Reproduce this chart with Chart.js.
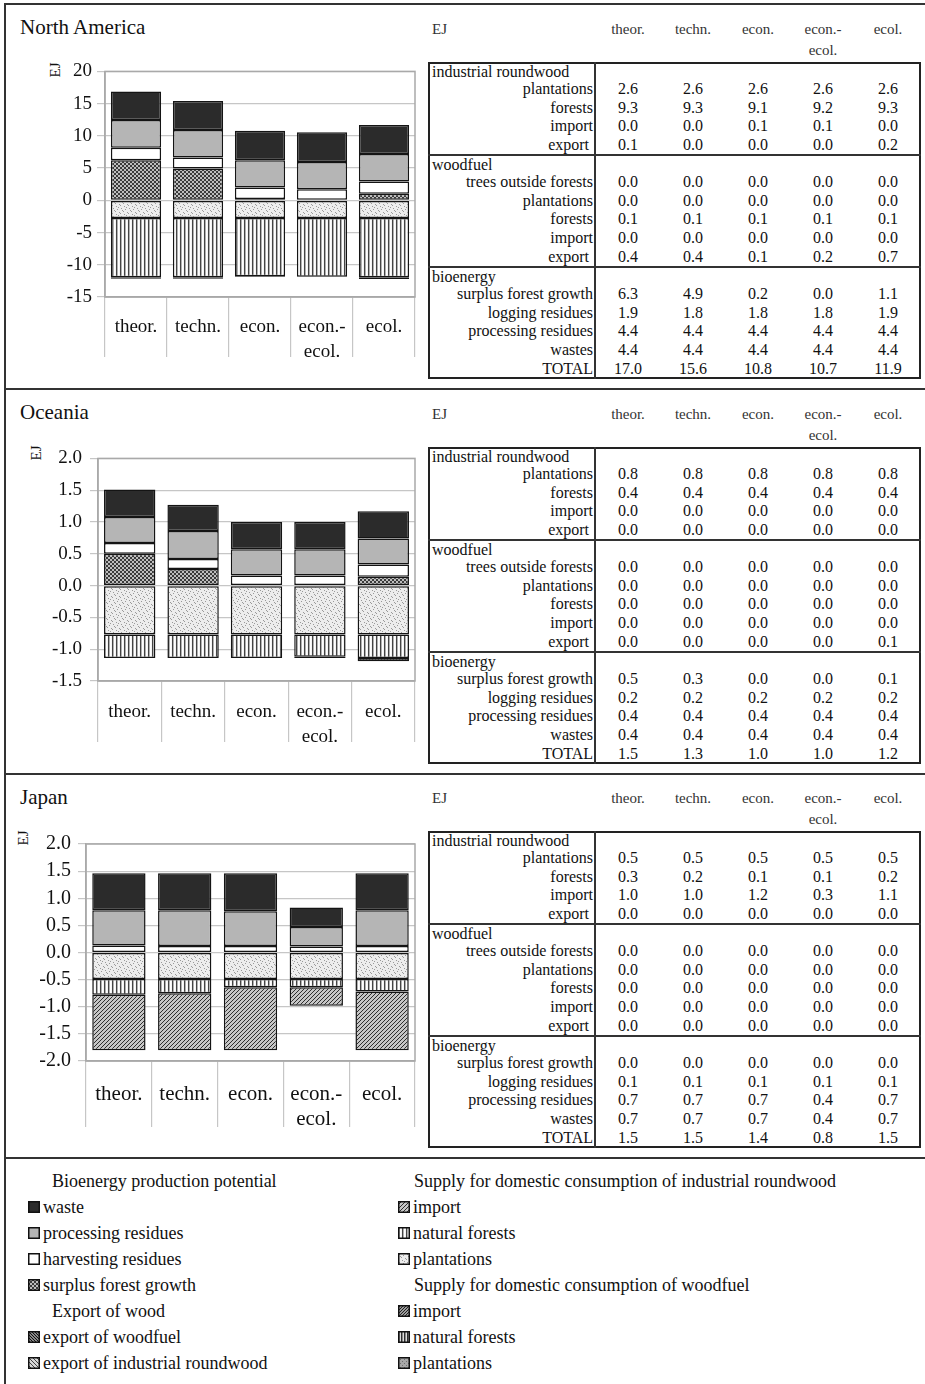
<!DOCTYPE html>
<html>
<head>
<meta charset="utf-8">
<script src="https://cdn.jsdelivr.net/npm/chart.js@4.4.0/dist/chart.umd.min.js"></script>
<style>
body { margin: 0; background: #fff; font-family: "Liberation Serif", "DejaVu Serif", serif; color: #111; }
#page { position: relative; width: 925px; height: 1384px; overflow: hidden; background: #fff; }
.rule { position: absolute; background: #333; }
.txt { position: absolute; white-space: nowrap; line-height: 1.15; }
.box { position: absolute; border: 2px solid #222; box-sizing: border-box; }
.chartbox { position: absolute; }
.sw { position: absolute; }
</style>
</head>
<body>
<div id="page"></div>
<script>
const FONT = '"Liberation Serif", "DejaVu Serif", serif'

// ------------------------------------------------------------
// data
// ------------------------------------------------------------
const categories = ['theor.', 'techn.', 'econ.', ['econ.-', 'ecol.'], 'ecol.']

// bar segments (EJ); bioenergy above zero, wood supply below
const naSurplus    = [6.2, 4.95, 0.2, 0, 1.0]
const naHarvest    = [1.95, 1.7, 1.8, 1.7, 1.9]
const naProcessing = [4.3, 4.25, 4.2, 4.25, 4.3]
const naWaste      = [4.45, 4.5, 4.6, 4.6, 4.5]
const naPlantations = [-2.75, -2.75, -2.75, -2.75, -2.75]
const naForests    = [-9.2, -9.2, -9.05, -9.1, -9.2]
const naImport     = [0, 0, -0.1, -0.05, 0]
const naExportWf   = [-0.2, -0.2, 0, 0, -0.25]

const ocSurplus    = [0.5, 0.26, 0, 0, 0.14]
const ocHarvest    = [0.17, 0.16, 0.16, 0.16, 0.19]
const ocProcessing = [0.41, 0.44, 0.41, 0.41, 0.41]
const ocWaste      = [0.43, 0.41, 0.43, 0.43, 0.43]
const ocPlantations = [-0.77, -0.77, -0.77, -0.77, -0.77]
const ocForests    = [-0.37, -0.37, -0.37, -0.35, -0.37]
const ocImport     = [0, 0, 0, 0, 0]
const ocExportWf   = [0, 0, 0, -0.02, -0.05]

const jpSurplus    = [0, 0, 0, 0, 0]
const jpHarvest    = [0.13, 0.12, 0.12, 0.11, 0.12]
const jpProcessing = [0.65, 0.66, 0.64, 0.36, 0.66]
const jpWaste      = [0.68, 0.68, 0.70, 0.36, 0.68]
const jpPlantations = [-0.49, -0.49, -0.49, -0.49, -0.49]
const jpForests    = [-0.29, -0.26, -0.15, -0.15, -0.23]
const jpImport     = [-1.02, -1.05, -1.16, -0.34, -1.08]
const jpExportWf   = [0, 0, 0, 0, 0]

// table rows
const tableSections = [
    { title: 'industrial roundwood', rows: ['plantations', 'forests', 'import', 'export\u00a0'] },
    { title: 'woodfuel', rows: ['trees outside forests', 'plantations', 'forests', 'import', 'export\u00a0'] },
    { title: 'bioenergy', rows: ['surplus forest growth', 'logging residues', 'processing residues', 'wastes', 'TOTAL'] },
]

const naTable = [
    [2.6, 2.6, 2.6, 2.6, 2.6],
    [9.3, 9.3, 9.1, 9.2, 9.3],
    [0.0, 0.0, 0.1, 0.1, 0.0],
    [0.1, 0.0, 0.0, 0.0, 0.2],
    [0.0, 0.0, 0.0, 0.0, 0.0],
    [0.0, 0.0, 0.0, 0.0, 0.0],
    [0.1, 0.1, 0.1, 0.1, 0.1],
    [0.0, 0.0, 0.0, 0.0, 0.0],
    [0.4, 0.4, 0.1, 0.2, 0.7],
    [6.3, 4.9, 0.2, 0.0, 1.1],
    [1.9, 1.8, 1.8, 1.8, 1.9],
    [4.4, 4.4, 4.4, 4.4, 4.4],
    [4.4, 4.4, 4.4, 4.4, 4.4],
    [17.0, 15.6, 10.8, 10.7, 11.9],
]
const ocTable = [
    [0.8, 0.8, 0.8, 0.8, 0.8],
    [0.4, 0.4, 0.4, 0.4, 0.4],
    [0.0, 0.0, 0.0, 0.0, 0.0],
    [0.0, 0.0, 0.0, 0.0, 0.0],
    [0.0, 0.0, 0.0, 0.0, 0.0],
    [0.0, 0.0, 0.0, 0.0, 0.0],
    [0.0, 0.0, 0.0, 0.0, 0.0],
    [0.0, 0.0, 0.0, 0.0, 0.0],
    [0.0, 0.0, 0.0, 0.0, 0.1],
    [0.5, 0.3, 0.0, 0.0, 0.1],
    [0.2, 0.2, 0.2, 0.2, 0.2],
    [0.4, 0.4, 0.4, 0.4, 0.4],
    [0.4, 0.4, 0.4, 0.4, 0.4],
    [1.5, 1.3, 1.0, 1.0, 1.2],
]
const jpTable = [
    [0.5, 0.5, 0.5, 0.5, 0.5],
    [0.3, 0.2, 0.1, 0.1, 0.2],
    [1.0, 1.0, 1.2, 0.3, 1.1],
    [0.0, 0.0, 0.0, 0.0, 0.0],
    [0.0, 0.0, 0.0, 0.0, 0.0],
    [0.0, 0.0, 0.0, 0.0, 0.0],
    [0.0, 0.0, 0.0, 0.0, 0.0],
    [0.0, 0.0, 0.0, 0.0, 0.0],
    [0.0, 0.0, 0.0, 0.0, 0.0],
    [0.0, 0.0, 0.0, 0.0, 0.0],
    [0.1, 0.1, 0.1, 0.1, 0.1],
    [0.7, 0.7, 0.7, 0.4, 0.7],
    [0.7, 0.7, 0.7, 0.4, 0.7],
    [1.5, 1.5, 1.4, 0.8, 1.5],
]

// legend entries
const legendLeft = [
    { head: 'Bioenergy production potential' },
    { pat: 'waste', text: 'waste' },
    { pat: 'processing', text: 'processing residues' },
    { pat: 'harvest', text: 'harvesting residues' },
    { pat: 'surplus', text: 'surplus forest growth' },
    { head: 'Export of wood' },
    { pat: 'exportWf', text: 'export of woodfuel' },
    { pat: 'exportIrw', text: 'export of industrial roundwood' },
]
const legendRight = [
    { head: 'Supply for domestic consumption of industrial roundwood' },
    { pat: 'irwImport', text: 'import' },
    { pat: 'irwForest', text: 'natural forests' },
    { pat: 'irwPlant', text: 'plantations' },
    { head: 'Supply for domestic consumption of woodfuel' },
    { pat: 'wfImport', text: 'import' },
    { pat: 'wfForest', text: 'natural forests' },
    { pat: 'wfPlant', text: 'plantations' },
]

// ------------------------------------------------------------
// fill patterns
// ------------------------------------------------------------
function tile(w, h, bg, dots, dotColor) {
    const c = document.createElement('canvas')
    c.width = w; c.height = h
    const g = c.getContext('2d')
    g.fillStyle = bg
    g.fillRect(0, 0, w, h)
    g.fillStyle = dotColor
    dots.forEach(([x, y]) => g.fillRect(x, y, 1, 1))
    return c
}
function vlines(cols) {
    const c = document.createElement('canvas')
    c.width = cols.length; c.height = 1
    const g = c.getContext('2d')
    cols.forEach((col, i) => { g.fillStyle = col; g.fillRect(i, 0, 1, 1) })
    return c
}
const tiles = {
    waste: tile(2, 2, '#2b2b2b', [], '#000'),
    processing: tile(2, 2, '#b5b5b5', [], '#000'),
    harvest: tile(2, 2, '#ffffff', [], '#000'),
    surplus: tile(4, 4, '#bdbdbd', [[0, 0], [1, 0], [0, 1], [1, 1], [2, 2], [3, 2], [2, 3], [3, 3]], '#3a3a3a'),
    irwPlant: tile(8, 8, '#ededed', [[1, 1], [5, 2], [3, 4], [7, 5], [0, 6], [4, 7], [6, 0], [2, 3]], '#9a9a9a'),
    irwForest: vlines(['#444444', '#b0b0b0', '#ffffff', '#f4f4f4']),
    irwImport: tile(4, 4, '#c6c6c6', [[3, 0], [2, 1], [1, 2], [0, 3]], '#2e2e2e'),
    exportWf: tile(3, 3, '#8a8a8a', [[0, 0], [1, 1], [2, 2]], '#111'),
    exportIrw: tile(4, 4, '#d8d8d8', [[0, 0], [1, 1], [2, 2], [3, 3]], '#444'),
    wfImport: tile(3, 3, '#9c9c9c', [[2, 0], [1, 1], [0, 2]], '#222'),
    wfForest: vlines(['#2e2e2e', '#8a8a8a', '#dcdcdc']),
    wfPlant: tile(4, 4, '#a8a8a8', [[0, 0], [2, 2]], '#6e6e6e'),
}

// ------------------------------------------------------------
// page helpers
// ------------------------------------------------------------
const page = document.getElementById('page')

function rule(x, y, w, h) {
    const d = document.createElement('div')
    d.className = 'rule'
    Object.assign(d.style, { left: x + 'px', top: y + 'px', width: w + 'px', height: h + 'px' })
    page.appendChild(d)
}
function text(str, x, y, align, size, extra) {
    const d = document.createElement('div')
    d.className = 'txt'
    d.textContent = str
    const tx = align === 'right' ? '-100%' : align === 'center' ? '-50%' : '0'
    Object.assign(d.style, { left: x + 'px', top: y + 'px', fontSize: size + 'px', transform: `translate(${tx},-50%)` }, extra || {})
    page.appendChild(d)
    return d
}

// frame
rule(4, 3, 921, 2)
rule(4, 3, 2, 1381)
rule(4, 388, 921, 2)
rule(4, 773, 921, 2)
rule(4, 1157, 921, 2)

// ------------------------------------------------------------
// tables
// ------------------------------------------------------------
const colX = [628, 693, 758, 823, 888]

function buildTable(top, values) {
    const headY = top - 32
    text('EJ', 432, headY, 'left', 15, { color: '#333' })
    categories.forEach((c, i) => {
        [].concat(c).forEach((t, k) => text(t, colX[i], headY + k * 21, 'center', 15, { color: '#333' }))
    })
    const box = document.createElement('div')
    box.className = 'box'
    Object.assign(box.style, { left: '428px', top: top + 'px', width: '493px', height: '317px' })
    page.appendChild(box)
    rule(594, top, 2, 317)

    const secTops = [0, 93, 205]
    let r = 0
    tableSections.forEach((sec, s) => {
        const st = top + secTops[s]
        if (s > 0) rule(428, st - 1, 493, 2)
        text(sec.title, 432, st + 10, 'left', 16)
        sec.rows.forEach((label, k) => {
            const y = st + 27 + k * 18.7
            text(label, 593, y, 'right', 16)
            values[r].forEach((v, i) => text(v.toFixed(1), colX[i], y, 'center', 16))
            r++
        })
    })
}

// ------------------------------------------------------------
// charts
// ------------------------------------------------------------
const plotFrame = {
    id: 'plotFrame',
    beforeDatasetsDraw(chart) {
        const { ctx, chartArea: a } = chart
        ctx.save()
        ctx.strokeStyle = '#a9a9a9'
        ctx.lineWidth = 1.5
        ctx.strokeRect(a.left, a.top, a.right - a.left, a.bottom - a.top)
        ctx.restore()
    }
}

const CL = 8        // canvas left edge on the page
const AXIS_H = 72   // height kept for the category axis

function buildChart(p) {
    text(p.name, 20, p.titleY, 'left', 21)
    text('EJ', p.ejX, p.ejY, 'center', 15, { transform: 'translate(-50%,-50%) rotate(-90deg)' })

    const top = p.plotTop - 14
    const h = p.plotBottom - p.plotTop + 14 + AXIS_H
    const wrap = document.createElement('div')
    wrap.className = 'chartbox'
    Object.assign(wrap.style, { left: CL + 'px', top: top + 'px', width: (420 - CL) + 'px', height: h + 'px' })
    const cv = document.createElement('canvas')
    cv.width = 420 - CL; cv.height = h
    wrap.appendChild(cv)
    page.appendChild(wrap)

    const ctx = cv.getContext('2d')
    const ds = (label, data, pat) => ({
        label,
        data: data.map(v => (v === 0 ? null : v)),
        backgroundColor: ctx.createPattern(tiles[pat], 'repeat'),
        borderColor: '#141414',
        borderWidth: 1.5,
        borderSkipped: false,
    })

    new Chart(ctx, {
        type: 'bar',
        data: {
            labels: categories,
            datasets: [
                ds('surplus forest growth', p.surplus, 'surplus'),
                ds('harvesting residues', p.harvest, 'harvest'),
                ds('processing residues', p.processing, 'processing'),
                ds('waste', p.waste, 'waste'),
                ds('plantations', p.plantations, 'irwPlant'),
                ds('natural forests', p.forests, 'irwForest'),
                ds('import', p.import, 'irwImport'),
                ds('export of woodfuel', p.exportWf, 'exportWf'),
            ]
        },
        options: {
            responsive: false,
            animation: false,
            events: [],
            layout: { padding: { top: 14, right: 5, left: 0, bottom: 0 } },
            plugins: { legend: { display: false }, tooltip: { enabled: false } },
            datasets: { bar: { categoryPercentage: 1, barPercentage: 0.81 } },
            scales: {
                x: {
                    stacked: true,
                    grid: { offset: true, drawOnChartArea: false, color: '#c6c6c6', tickLength: p.divLen, lineWidth: 1.2 },
                    border: { color: '#a9a9a9', width: 1.5 },
                    ticks: {
                        autoSkip: false, maxRotation: 0, color: '#111',
                        font: { family: FONT, size: p.catFont, lineHeight: '25px' },
                        padding: p.labelY - 12.5 - p.divLen,
                    },
                    afterFit(s) { s.height = AXIS_H },
                },
                y: {
                    stacked: true,
                    min: p.min, max: p.max,
                    ticks: {
                        stepSize: p.step, color: '#111', padding: p.tickPad,
                        font: { family: FONT, size: p.tickFont },
                        callback: v => v.toFixed(p.dec),
                    },
                    grid: { color: '#c6c6c6', tickLength: 8, lineWidth: 1.2 },
                    border: { color: '#a9a9a9', width: 1.5 },
                    afterFit(s) { s.width = p.plotLeft - CL },
                }
            }
        },
        plugins: [plotFrame]
    })
}

buildChart({
    name: 'North America', titleY: 27, ejX: 56, ejY: 70,
    plotLeft: 105, plotTop: 69, plotBottom: 297, divLen: 60, labelY: 30,
    min: -15, max: 20, step: 5, dec: 0, tickFont: 19, catFont: 19, tickPad: 5,
    surplus: naSurplus, harvest: naHarvest, processing: naProcessing, waste: naWaste,
    plantations: naPlantations, forests: naForests, import: naImport, exportWf: naExportWf,
})
buildChart({
    name: 'Oceania', titleY: 412, ejX: 37, ejY: 453,
    plotLeft: 98, plotTop: 453, plotBottom: 681, divLen: 61, labelY: 31,
    min: -1.5, max: 2, step: 0.5, dec: 1, tickFont: 19, catFont: 19, tickPad: 8,
    surplus: ocSurplus, harvest: ocHarvest, processing: ocProcessing, waste: ocWaste,
    plantations: ocPlantations, forests: ocForests, import: ocImport, exportWf: ocExportWf,
})
buildChart({
    name: 'Japan', titleY: 797, ejX: 24, ejY: 838,
    plotLeft: 86, plotTop: 839, plotBottom: 1061, divLen: 66, labelY: 33,
    min: -2, max: 2, step: 0.5, dec: 1, tickFont: 20, catFont: 21, tickPad: 7,
    surplus: jpSurplus, harvest: jpHarvest, processing: jpProcessing, waste: jpWaste,
    plantations: jpPlantations, forests: jpForests, import: jpImport, exportWf: jpExportWf,
})

buildTable(62, naTable)
buildTable(447, ocTable)
buildTable(831, jpTable)

// ------------------------------------------------------------
// legend
// ------------------------------------------------------------
function swatch(name, x, y) {
    const c = document.createElement('canvas')
    c.width = 12; c.height = 12
    c.className = 'sw'
    Object.assign(c.style, { left: x + 'px', top: (y - 6) + 'px' })
    const g = c.getContext('2d')
    g.fillStyle = g.createPattern(tiles[name], 'repeat')
    g.fillRect(0, 0, 12, 12)
    g.strokeStyle = '#111'
    g.lineWidth = 1.5
    g.strokeRect(0.75, 0.75, 10.5, 10.5)
    page.appendChild(c)
}
function buildLegend(items, swX, txtX, headX) {
    items.forEach((it, k) => {
        const y = 1181 + k * 26
        if (it.head) {
            text(it.head, headX, y, 'left', 18)
        } else {
            swatch(it.pat, swX, y)
            text(it.text, txtX, y, 'left', 18)
        }
    })
}
buildLegend(legendLeft, 28, 43, 52)
buildLegend(legendRight, 398, 413, 414)
</script>
</body>
</html>
